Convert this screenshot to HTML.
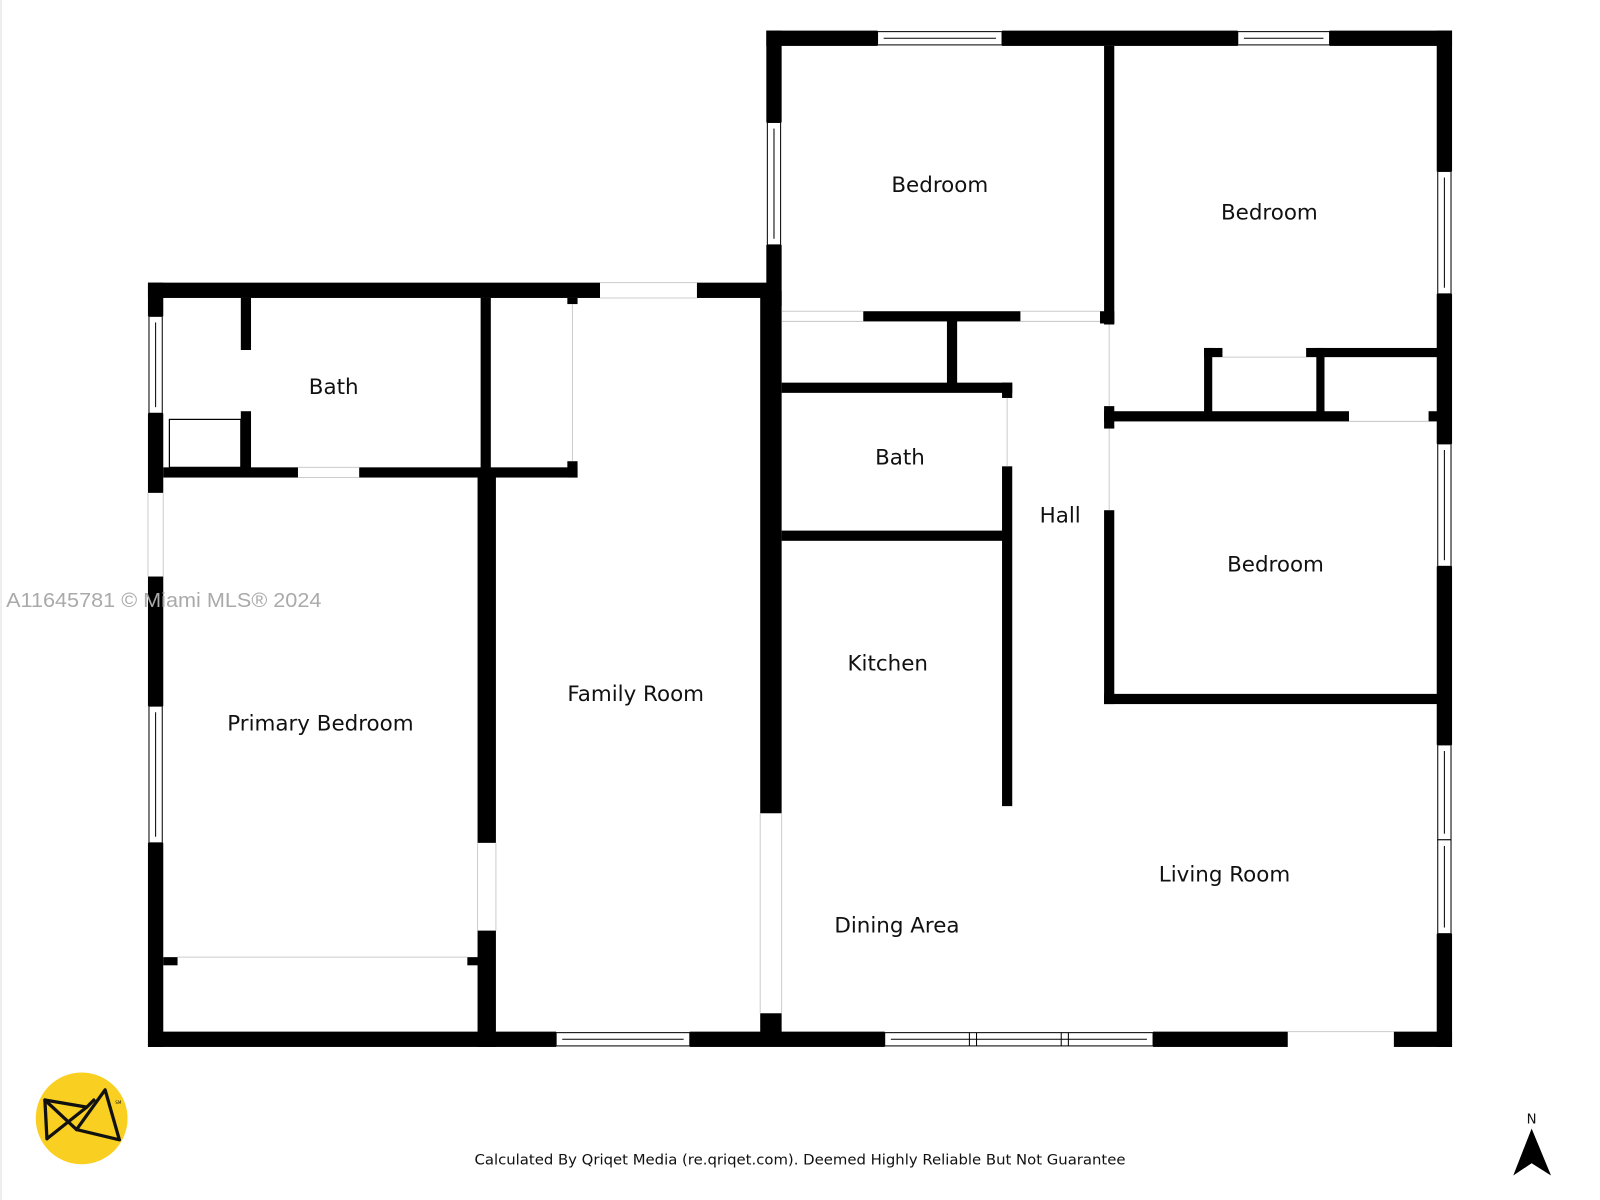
<!DOCTYPE html>
<html><head><meta charset="utf-8"><style>
html,body{margin:0;padding:0;background:#fff;width:1600px;height:1200px;overflow:hidden}
svg{display:block}
text{font-family:"DejaVu Sans","Liberation Sans",sans-serif;fill:#111}
</style></head><body>
<svg width="1600" height="1200" viewBox="0 0 1568 1176" xmlns="http://www.w3.org/2000/svg">
<rect x="0" y="0" width="1568" height="1176" fill="#fff"/>
<line x1="1" y1="0" x2="1" y2="1176" stroke="#ddd" stroke-width="1"/>
<g fill="#000">
<rect x="145" y="277" width="443" height="15"/>
<rect x="683" y="277" width="70" height="15"/>
<rect x="145" y="277" width="15" height="33"/>
<rect x="145" y="405" width="15" height="78"/>
<rect x="145" y="565" width="15" height="127"/>
<rect x="145" y="826" width="15" height="200"/>
<rect x="145" y="1011" width="400" height="15"/>
<rect x="676" y="1011" width="191" height="15"/>
<rect x="1130" y="1011" width="132" height="15"/>
<rect x="1366" y="1011" width="57" height="15"/>
<rect x="751" y="30" width="109" height="15"/>
<rect x="982" y="30" width="231" height="15"/>
<rect x="1303" y="30" width="120" height="15"/>
<rect x="751" y="30" width="15" height="90"/>
<rect x="751" y="240" width="15" height="60"/>
<rect x="745" y="285" width="21" height="512"/>
<rect x="745" y="993" width="21" height="20"/>
<rect x="1408" y="30" width="15" height="138"/>
<rect x="1408" y="288" width="15" height="147"/>
<rect x="1408" y="555" width="15" height="175"/>
<rect x="1408" y="915" width="15" height="111"/>
<rect x="1082" y="45" width="10" height="273"/>
<rect x="846" y="305" width="154" height="10"/>
<rect x="1078" y="305" width="14" height="12"/>
<rect x="928" y="310" width="10" height="70"/>
<rect x="766" y="375" width="226" height="10"/>
<rect x="982" y="375" width="10" height="15"/>
<rect x="982" y="457" width="10" height="333"/>
<rect x="766" y="520" width="220" height="10"/>
<rect x="1082" y="398" width="10" height="22"/>
<rect x="1082" y="500" width="10" height="190"/>
<rect x="1082" y="680" width="333" height="10"/>
<rect x="1082" y="403" width="240" height="10"/>
<rect x="1400" y="403" width="10" height="10"/>
<rect x="1180" y="341" width="8" height="67"/>
<rect x="1180" y="341" width="18" height="9"/>
<rect x="1280" y="341" width="130" height="9"/>
<rect x="1290" y="341" width="8" height="67"/>
<rect x="236" y="292" width="10" height="51"/>
<rect x="236" y="403" width="10" height="63"/>
<rect x="160" y="458" width="132" height="10"/>
<rect x="352" y="458" width="214" height="10"/>
<rect x="471" y="292" width="10" height="176"/>
<rect x="556" y="292" width="10" height="6"/>
<rect x="556" y="452" width="10" height="16"/>
<rect x="468" y="463" width="18" height="363"/>
<rect x="468" y="912" width="18" height="114"/>
<rect x="160" y="938" width="14" height="8"/>
<rect x="458" y="938" width="12" height="8"/>
</g>
<rect x="166" y="411" width="70" height="47" fill="none" stroke="#000" stroke-width="1.2"/>
<g stroke="#ccc" stroke-width="1" fill="none">
<line x1="588" y1="277" x2="683" y2="277"/><line x1="588" y1="292" x2="683" y2="292"/>
<line x1="561" y1="298" x2="561" y2="452"/>
<line x1="292" y1="458" x2="352" y2="458"/><line x1="292" y1="468" x2="352" y2="468"/>
<line x1="174" y1="938" x2="458" y2="938"/>
<line x1="145" y1="483" x2="145" y2="565"/><line x1="160" y1="483" x2="160" y2="565"/>
<line x1="468" y1="826" x2="468" y2="912"/><line x1="486" y1="826" x2="486" y2="912"/>
<line x1="745" y1="797" x2="745" y2="993"/><line x1="766" y1="797" x2="766" y2="993"/>
<line x1="766" y1="305" x2="846" y2="305"/><line x1="766" y1="315" x2="846" y2="315"/>
<line x1="1000" y1="305" x2="1078" y2="305"/><line x1="1000" y1="315" x2="1078" y2="315"/>
<line x1="987" y1="390" x2="987" y2="457"/>
<line x1="1087" y1="318" x2="1087" y2="398"/>
<line x1="1087" y1="420" x2="1087" y2="500"/>
<line x1="1198" y1="350" x2="1280" y2="350"/>
<line x1="1322" y1="413" x2="1400" y2="413"/>
<line x1="1262" y1="1011" x2="1366" y2="1011"/>
</g>
<g fill="#fff" stroke="#000" stroke-width="1">
<rect x="146" y="310" width="13" height="95"/><line x1="152.5" y1="316" x2="152.5" y2="399"/>
<rect x="146" y="692" width="13" height="134"/><line x1="152.5" y1="698" x2="152.5" y2="820"/>
<rect x="545" y="1012" width="131" height="13"/><line x1="551" y1="1018.5" x2="670" y2="1018.5"/>
<rect x="867" y="1012" width="263" height="13"/><line x1="873" y1="1018.5" x2="1124" y2="1018.5"/>
<line x1="950" y1="1012" x2="950" y2="1025"/><line x1="957" y1="1012" x2="957" y2="1025"/>
<line x1="1040" y1="1012" x2="1040" y2="1025"/><line x1="1047" y1="1012" x2="1047" y2="1025"/>
<rect x="860" y="31" width="122" height="13"/><line x1="866" y1="37.5" x2="976" y2="37.5"/>
<rect x="1213" y="31" width="90" height="13"/><line x1="1219" y1="37.5" x2="1297" y2="37.5"/>
<rect x="752" y="120" width="13" height="120"/><line x1="758.5" y1="126" x2="758.5" y2="234"/>
<rect x="1409" y="168" width="13" height="120"/><line x1="1415.5" y1="174" x2="1415.5" y2="282"/>
<rect x="1409" y="435" width="13" height="120"/><line x1="1415.5" y1="441" x2="1415.5" y2="549"/>
<rect x="1409" y="730" width="13" height="93"/><line x1="1415.5" y1="736" x2="1415.5" y2="817"/>
<rect x="1409" y="823" width="13" height="92"/><line x1="1415.5" y1="829" x2="1415.5" y2="909"/>
</g>
<g font-size="21" text-anchor="middle">
<text x="921" y="188">Bedroom</text>
<text x="1244" y="215">Bedroom</text>
<text x="1250" y="560">Bedroom</text>
<text x="327" y="386">Bath</text>
<text x="882" y="455">Bath</text>
<text x="1039" y="512">Hall</text>
<text x="870" y="657">Kitchen</text>
<text x="623" y="687">Family Room</text>
<text x="314" y="716">Primary Bedroom</text>
<text x="1200" y="864">Living Room</text>
<text x="879" y="914">Dining Area</text>
</g>
<text x="6" y="595" font-size="20" textLength="309" lengthAdjust="spacingAndGlyphs" style="font-family:'Liberation Sans',sans-serif;fill:#aaa">A11645781 © Miami MLS® 2024</text>
<text x="784" y="1141" font-size="14" text-anchor="middle" textLength="638" lengthAdjust="spacingAndGlyphs">Calculated By Qriqet Media (re.qriqet.com). Deemed Highly Reliable But Not Guarantee</text>
<circle cx="80" cy="1096" r="45" fill="#f9cf22"/>
<g fill="none" stroke="#111" stroke-width="3.2" stroke-linejoin="round" stroke-linecap="round">
<polyline points="46,1116 44,1078 85,1085 46,1116"/>
<line x1="44" y1="1078" x2="75" y2="1107"/>
<polygon points="103,1068 117,1117 75,1107"/>
<line x1="85" y1="1085" x2="92" y2="1078"/>
</g>
<text x="113" y="1082" font-size="4">SM</text>
<text x="1501" y="1101" font-size="13" text-anchor="middle">N</text>
<polygon points="1501,1106 1520,1152 1501,1140 1483,1152" fill="#000"/>
</svg>
</body></html>
